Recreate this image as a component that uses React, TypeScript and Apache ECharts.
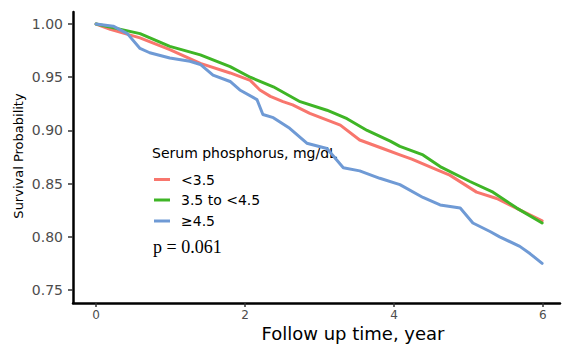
import React, { useEffect, useRef } from "react";
import * as echarts from "echarts";

const groups = ["<3.5", "3.5 to <4.5", "≥4.5"];
const colors = ["#F8766D", "#3FB526", "#6F9AD5"];

const tRed = [0, 0.19, 0.59, 0.99, 1.4, 1.8, 2.07, 2.2, 2.34, 2.51, 2.64, 2.87, 3.28, 3.54, 3.85, 4.08, 4.24, 4.58, 4.75, 5.11, 5.38, 5.73, 5.99];
const sRed = [1.0, 0.995, 0.987, 0.976, 0.963, 0.954, 0.947, 0.938, 0.932, 0.927, 0.924, 0.916, 0.905, 0.891, 0.883, 0.877, 0.873, 0.863, 0.858, 0.842, 0.836, 0.824, 0.815];

const tGreen = [0, 0.59, 0.99, 1.4, 1.8, 2.07, 2.38, 2.74, 3.1, 3.37, 3.64, 3.95, 4.08, 4.39, 4.62, 5.02, 5.33, 5.65, 5.99];
const sGreen = [1.0, 0.991, 0.979, 0.971, 0.96, 0.95, 0.941, 0.927, 0.919, 0.911, 0.9, 0.89, 0.885, 0.877, 0.866, 0.852, 0.842, 0.827, 0.813];

const tBlue = [0, 0.23, 0.42, 0.59, 0.72, 0.99, 1.26, 1.4, 1.57, 1.8, 1.93, 2.16, 2.24, 2.38, 2.6, 2.83, 3.1, 3.32, 3.54, 3.81, 4.08, 4.39, 4.62, 4.89, 5.06, 5.29, 5.42, 5.69, 5.83, 5.99];
const sBlue = [1.0, 0.998, 0.991, 0.977, 0.973, 0.968, 0.965, 0.962, 0.952, 0.946, 0.938, 0.929, 0.915, 0.912, 0.902, 0.888, 0.883, 0.865, 0.862, 0.855, 0.849, 0.837, 0.83, 0.827, 0.813, 0.805, 0.8, 0.791, 0.784, 0.775];

const xTicks = [0, 2, 4, 6];
const yTicks = [0.75, 0.8, 0.85, 0.9, 0.95, 1.0];

const legendTitle = "Serum phosphorus, mg/dL";
const pText = "p = 0.061";
const xTitle = "Follow up time, year";
const yTitle = "Survival Probability";

const zip = (t: number[], s: number[]) => t.map((v, i) => [v, s[i]]);

export default function App() {
  const ref = useRef<HTMLDivElement>(null);
  useEffect(() => {
    if (!ref.current) return;
    const chart = echarts.init(ref.current, null, { renderer: "svg" });
    const sans = "DejaVu Sans";
    const datasets = [zip(tRed, sRed), zip(tGreen, sGreen), zip(tBlue, sBlue)];
    const legendX = 154;
    const legendRows = [179.5, 200, 221];
    const graphic: any[] = [
      {
        type: "text",
        x: 152,
        y: 153,
        style: { text: legendTitle, font: `14px "${sans}"`, fill: "#000", align: "left", verticalAlign: "middle" },
      },
      {
        type: "text",
        x: 153,
        y: 247,
        style: { text: pText, font: `18px "Liberation Serif"`, fill: "#000", align: "left", verticalAlign: "middle" },
      },
      {
        type: "text",
        x: 353,
        y: 333,
        style: { text: xTitle, font: `18px "${sans}"`, fill: "#000", align: "center", verticalAlign: "middle" },
      },
      {
        type: "text",
        x: 18,
        y: 156,
        rotation: Math.PI / 2,
        style: { text: yTitle, font: `13px "${sans}"`, fill: "#000", align: "center", verticalAlign: "middle" },
      },
    ];
    groups.forEach((g, i) => {
      graphic.push({
        type: "line",
        shape: { x1: legendX, y1: legendRows[i], x2: legendX + 16, y2: legendRows[i] },
        style: { stroke: colors[i], lineWidth: 3 },
      });
      graphic.push({
        type: "text",
        x: 181,
        y: legendRows[i],
        style: { text: g, font: `14px "${sans}"`, fill: "#000", align: "left", verticalAlign: "middle" },
      });
    });

    chart.setOption({
      animation: false,
      grid: { left: 73, right: 2, top: 12, bottom: 41, containLabel: false },
      xAxis: {
        type: "value",
        min: -0.31,
        max: 6.23,
        splitLine: { show: false },
        axisLine: { show: true, onZero: false, lineStyle: { color: "#000", width: 2.5 } },
        axisTick: { show: true, customValues: xTicks, length: 4, lineStyle: { color: "#333", width: 1.5 } },
        axisLabel: {
          customValues: xTicks,
          color: "#4D4D4D",
          fontSize: 12,
          fontFamily: sans,
          margin: 6,
          formatter: (v: number) => String(v),
        },
      },
      yAxis: {
        type: "value",
        min: 0.7378,
        max: 1.0113,
        splitLine: { show: false },
        axisLine: { show: true, onZero: false, lineStyle: { color: "#000", width: 2.5 } },
        axisTick: { show: true, customValues: yTicks, length: 5, lineStyle: { color: "#333", width: 1.5 } },
        axisLabel: {
          customValues: yTicks,
          color: "#4D4D4D",
          fontSize: 14,
          fontFamily: sans,
          margin: 10,
          formatter: (v: number) => v.toFixed(2),
        },
      },
      series: groups.map((g, i) => ({
        name: g,
        type: "line",
        data: datasets[i],
        showSymbol: false,
        symbol: "none",
        lineStyle: { color: colors[i], width: 3, cap: "round", join: "round" },
        itemStyle: { color: colors[i] },
        z: 2 + i,
      })),
      graphic,
    });
    return () => chart.dispose();
  }, []);
  return <div ref={ref} style={{ width: 562, height: 344, position: "absolute", left: 0, top: 0, background: "#fff" }} />;
}
